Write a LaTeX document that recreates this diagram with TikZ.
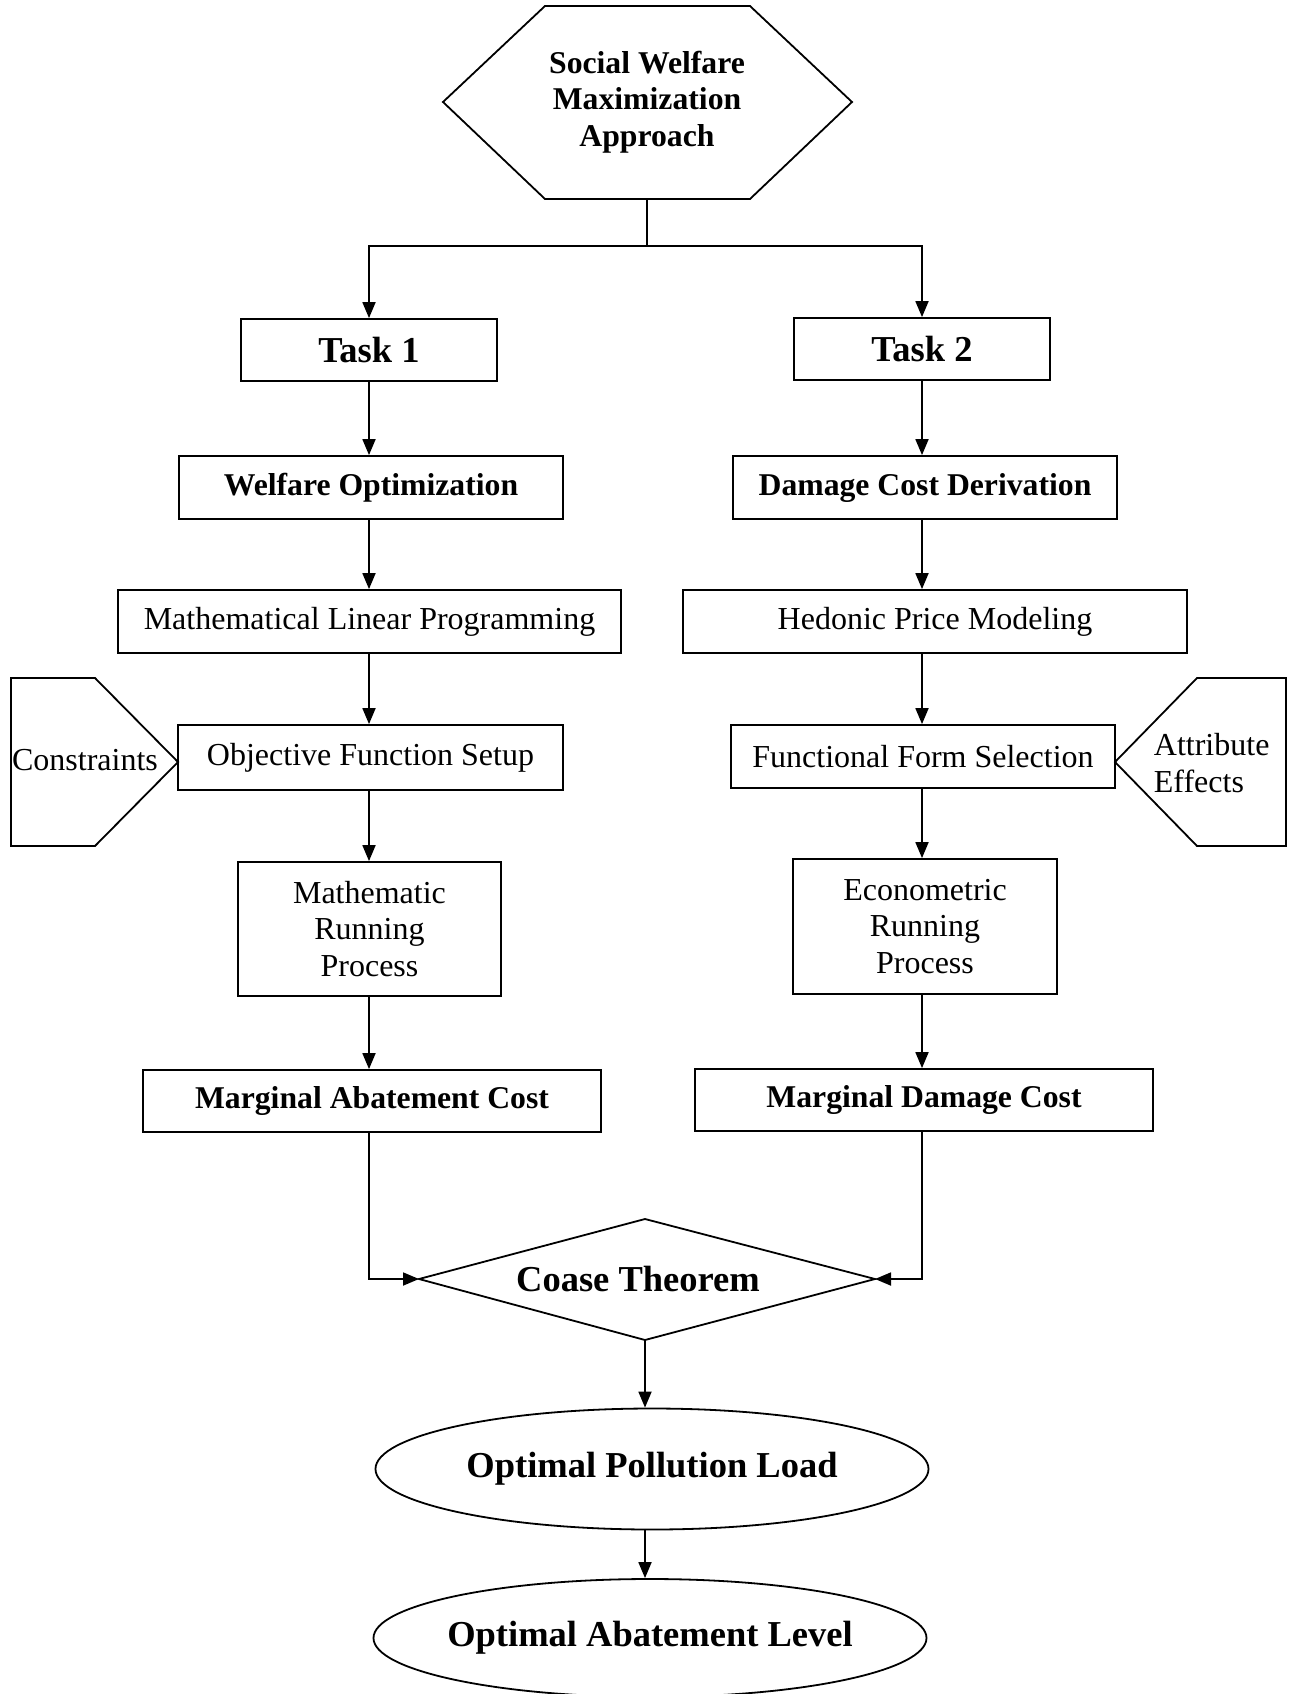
\documentclass[tikz,border=0pt]{standalone}
\usepackage{fontspec}
\setmainfont{Liberation Serif}
\usetikzlibrary{arrows.meta,shapes.geometric}
\newcommand\regfont{\fontsize{32}{36.5}\selectfont}
\newcommand\medbold{\fontsize{31.7}{36.7}\selectfont\bfseries}
\newcommand\bigbold{\fontsize{36.5}{40}\selectfont\bfseries}
\begin{document}
\begin{tikzpicture}[x=1pt,y=-1pt,line width=1.8pt,
  box/.style={draw, rectangle, inner sep=0pt, align=center, font=\regfont},
  bbox/.style={box, font=\medbold},
  tbox/.style={box, font=\bigbold},
  oval/.style={draw, ellipse, inner sep=0pt},
  arr/.style={-{Triangle[length=16pt,width=13pt]}},
  outline/.style={draw, line join=miter}]
\useasboundingbox (0,0) rectangle (1290,1694);

% top hexagon
\draw[outline] (443,102) -- (545,6) -- (750,6) -- (852,102) -- (750,199) -- (545,199) -- cycle;
\node[font=\medbold, align=center] (swm) at (647,102) {Social Welfare\\Maximization\\Approach};
\coordinate (swmS) at (647,199);
\coordinate (split) at (647,246);

% tasks
\node[tbox, minimum width=256pt, minimum height=62pt] (t1) at (369,350) {Task 1};
\node[tbox, minimum width=256pt, minimum height=62pt] (t2) at (922,349) {Task 2};

% left column
\node[bbox, minimum width=384pt, minimum height=63pt] (wo) at (371,487.5) {Welfare Optimization};
\node[box, minimum width=503pt, minimum height=63pt] (mlp) at (369.5,621.5) {Mathematical Linear Programming};
\node[box, minimum width=385pt, minimum height=65pt] (obj) at (370.5,757.5) {Objective Function Setup};
\node[box, minimum width=263pt, minimum height=134pt] (mrp) at (369.5,929) {Mathematic\\Running\\Process};
\node[bbox, minimum width=458pt, minimum height=62pt] (mac) at (372,1101) {Marginal Abatement Cost};

% right column
\node[bbox, minimum width=384pt, minimum height=63pt] (dcd) at (925,487.5) {Damage Cost Derivation};
\node[box, minimum width=504pt, minimum height=63pt] (hed) at (935,621.5) {Hedonic Price Modeling};
\node[box, minimum width=384pt, minimum height=63pt] (ffs) at (923,756.5) {Functional Form Selection};
\node[box, minimum width=264pt, minimum height=135pt] (erp) at (925,926.5) {Econometric\\Running\\Process};
\node[bbox, minimum width=458pt, minimum height=62pt] (mdc) at (924,1100) {Marginal Damage Cost};

% side pentagons
\draw[outline] (11,678) -- (95,678) -- (178,762) -- (95,846) -- (11,846) -- cycle;
\node[font=\regfont] (con) at (85,760) {Constraints};
\draw[outline] (1115,762) -- (1197,678) -- (1286,678) -- (1286,846) -- (1197,846) -- cycle;
\node[font=\regfont, align=left, anchor=west, inner sep=0pt] (att) at (1153,763) {Attribute\\Effects};

% diamond
\draw[outline] (419,1279) -- (645,1219) -- (875,1279) -- (645,1340) -- cycle;
\node[font=\bigbold] (coase) at (638,1279) {Coase Theorem};
\coordinate (coW) at (419,1279);
\coordinate (coE) at (875,1279);
\coordinate (coS) at (645,1340);

% ellipses
\node[oval, minimum width=553pt, minimum height=121pt,
  label={[font=\bigbold]center:Optimal Pollution Load}] (pol) at (652,1469) {};
\node[oval, minimum width=553pt, minimum height=118pt,
  label={[font=\bigbold]center:Optimal Abatement Level}] (abl) at (650,1638) {};

% connectors
\draw (swmS) -- (split);
\draw[arr] (split) -| (t1.north);
\draw[arr] (split) -| (t2.north);

\draw[arr] (t1.south) -- (t1.south |- wo.north);
\draw[arr] (wo.south -| t1.south) -- (t1.south |- mlp.north);
\draw[arr] (mlp.south -| t1.south) -- (t1.south |- obj.north);
\draw[arr] (obj.south -| t1.south) -- (t1.south |- mrp.north);
\draw[arr] (mrp.south -| t1.south) -- (t1.south |- mac.north);

\draw[arr] (t2.south) -- (t2.south |- dcd.north);
\draw[arr] (dcd.south -| t2.south) -- (t2.south |- hed.north);
\draw[arr] (hed.south -| t2.south) -- (t2.south |- ffs.north);
\draw[arr] (ffs.south -| t2.south) -- (t2.south |- erp.north);
\draw[arr] (erp.south -| t2.south) -- (t2.south |- mdc.north);

\draw[arr] (mac.south -| t1.south) |- (coW);
\draw[arr] (mdc.south -| t2.south) |- (coE);
\draw[arr] (coS) -- (coS |- pol.north);
\draw[arr] (coS |- pol.south) -- (coS |- abl.north);
\end{tikzpicture}
\end{document}
